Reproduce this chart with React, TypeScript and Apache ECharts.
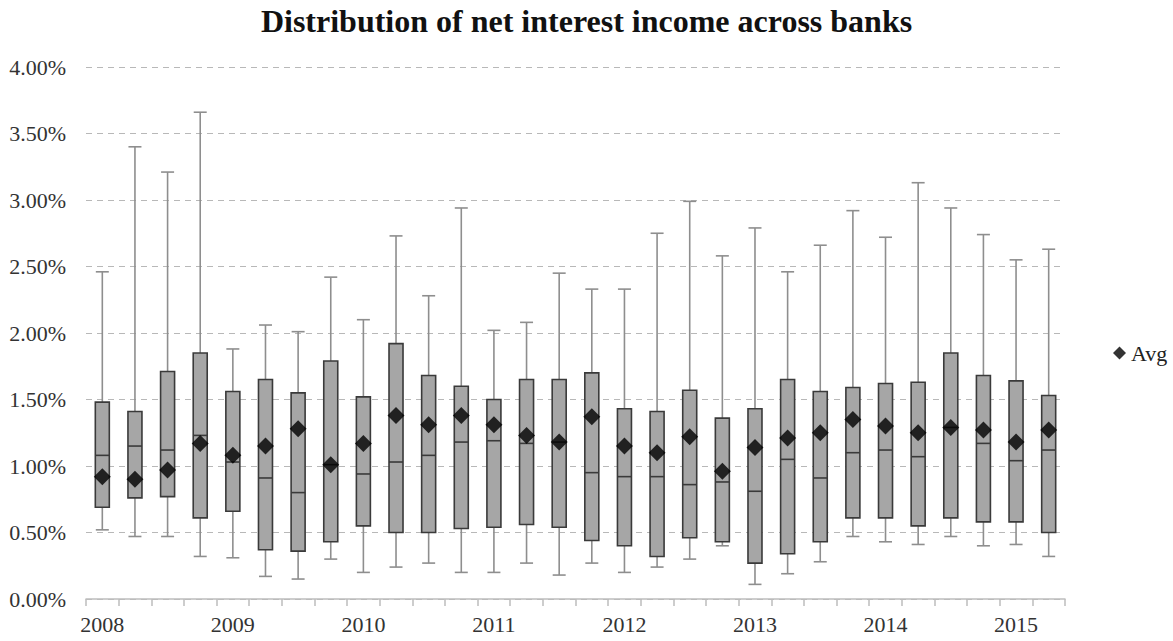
import React, { useEffect, useRef } from "react";
import * as echarts from "echarts";

const categories = [
  "2008Q1", "2008Q2", "2008Q3", "2008Q4",
  "2009Q1", "2009Q2", "2009Q3", "2009Q4",
  "2010Q1", "2010Q2", "2010Q3", "2010Q4",
  "2011Q1", "2011Q2", "2011Q3", "2011Q4",
  "2012Q1", "2012Q2", "2012Q3", "2012Q4",
  "2013Q1", "2013Q2", "2013Q3", "2013Q4",
  "2014Q1", "2014Q2", "2014Q3", "2014Q4",
  "2015Q1", "2015Q2",
];

const minVals = [0.52, 0.47, 0.47, 0.32, 0.31, 0.17, 0.15, 0.30, 0.20, 0.24, 0.27, 0.20, 0.20, 0.27, 0.18, 0.27, 0.20, 0.24, 0.30, 0.40, 0.11, 0.19, 0.28, 0.47, 0.43, 0.41, 0.47, 0.40, 0.41, 0.32];
const q1Vals = [0.69, 0.76, 0.77, 0.61, 0.66, 0.37, 0.36, 0.43, 0.55, 0.50, 0.50, 0.53, 0.54, 0.56, 0.54, 0.44, 0.40, 0.32, 0.46, 0.43, 0.27, 0.34, 0.43, 0.61, 0.61, 0.55, 0.61, 0.58, 0.58, 0.50];
const medianVals = [1.08, 1.15, 1.12, 1.23, 1.03, 0.91, 0.80, 1.01, 0.94, 1.03, 1.08, 1.18, 1.19, 1.17, 1.18, 0.95, 0.92, 0.92, 0.86, 0.88, 0.81, 1.05, 0.91, 1.10, 1.12, 1.07, 1.29, 1.17, 1.04, 1.12];
const q3Vals = [1.48, 1.41, 1.71, 1.85, 1.56, 1.65, 1.55, 1.79, 1.52, 1.92, 1.68, 1.60, 1.50, 1.65, 1.65, 1.70, 1.43, 1.41, 1.57, 1.36, 1.43, 1.65, 1.56, 1.59, 1.62, 1.63, 1.85, 1.68, 1.64, 1.53];
const maxVals = [2.46, 3.40, 3.21, 3.66, 1.88, 2.06, 2.01, 2.42, 2.10, 2.73, 2.28, 2.94, 2.02, 2.08, 2.45, 2.33, 2.33, 2.75, 2.99, 2.58, 2.79, 2.46, 2.66, 2.92, 2.72, 3.13, 2.94, 2.74, 2.55, 2.63];
const avgVals = [0.92, 0.90, 0.97, 1.17, 1.08, 1.15, 1.28, 1.01, 1.17, 1.38, 1.31, 1.38, 1.31, 1.23, 1.18, 1.37, 1.15, 1.10, 1.22, 0.96, 1.14, 1.21, 1.25, 1.35, 1.30, 1.25, 1.29, 1.27, 1.18, 1.27];

const yTicks = { min: 0, max: 4, interval: 0.5 };

const SERIF = "'Liberation Serif', 'Times New Roman', serif";

const BOX_W = 14;
const CAP_W = 13;
const WHISKER_COLOR = "#8e8e8e";
const BOX_FILL = "#a6a6a6";
const BOX_BORDER = "#3a3a3a";

export default function App() {
  const ref = useRef<HTMLDivElement>(null);

  useEffect(() => {
    if (!ref.current) return;
    const chart = echarts.init(ref.current, undefined, { renderer: "svg" });

    const boxData = categories.map((_, i) => [i, minVals[i], q1Vals[i], medianVals[i], q3Vals[i], maxVals[i]]);

    const renderBox = (params: any, api: any) => {
      const idx = api.value(0);
      const pMin = api.coord([idx, api.value(1)]);
      const pQ1 = api.coord([idx, api.value(2)]);
      const pMed = api.coord([idx, api.value(3)]);
      const pQ3 = api.coord([idx, api.value(4)]);
      const pMax = api.coord([idx, api.value(5)]);
      const x = pMed[0];
      const whiskerStyle = { stroke: WHISKER_COLOR, lineWidth: 1.6 };
      return {
        type: "group",
        children: [
          { type: "line", shape: { x1: x, y1: pMax[1], x2: x, y2: pQ3[1] }, style: whiskerStyle },
          { type: "line", shape: { x1: x, y1: pQ1[1], x2: x, y2: pMin[1] }, style: whiskerStyle },
          { type: "line", shape: { x1: x - CAP_W / 2, y1: pMax[1], x2: x + CAP_W / 2, y2: pMax[1] }, style: whiskerStyle },
          { type: "line", shape: { x1: x - CAP_W / 2, y1: pMin[1], x2: x + CAP_W / 2, y2: pMin[1] }, style: whiskerStyle },
          {
            type: "rect",
            shape: { x: x - BOX_W / 2, y: pQ3[1], width: BOX_W, height: pQ1[1] - pQ3[1] },
            style: { fill: BOX_FILL, stroke: BOX_BORDER, lineWidth: 1.6 },
          },
          {
            type: "line",
            shape: { x1: x - BOX_W / 2, y1: pMed[1], x2: x + BOX_W / 2, y2: pMed[1] },
            style: { stroke: BOX_BORDER, lineWidth: 1.6 },
          },
        ],
      };
    };

    chart.setOption({
      animation: false,
      backgroundColor: "#ffffff",
      title: {
        text: "Distribution of net interest income across banks",
        left: "center",
        top: 0,
        textStyle: {
          fontFamily: SERIF,
          fontSize: 32,
          fontWeight: "bold",
          color: "#111",
        },
      },
      legend: {
        data: [{ name: "Avg", icon: "diamond" }],
        left: 1108,
        top: 337,
        itemWidth: 13,
        itemHeight: 13,
        itemGap: 4,
        textStyle: { fontFamily: SERIF, fontSize: 22, color: "#222" },
      },
      grid: { left: 86, right: 108, top: 67, bottom: 42, containLabel: false },
      xAxis: {
        type: "category",
        data: categories,
        boundaryGap: true,
        axisLine: { show: true, lineStyle: { color: "#bdbdbd", width: 1.5 } },
        axisTick: { show: true, interval: 0, alignWithLabel: false, length: 7, lineStyle: { color: "#bdbdbd", width: 1.5 } },
        axisLabel: {
          interval: 3,
          margin: 14,
          fontFamily: SERIF,
          fontSize: 22,
          color: "#333",
          formatter: (v: string) => v.slice(0, 4),
        },
        splitLine: { show: false },
      },
      yAxis: {
        type: "value",
        min: yTicks.min,
        max: yTicks.max,
        interval: yTicks.interval,
        axisLine: { show: false },
        axisTick: { show: false },
        axisLabel: {
          margin: 20,
          fontFamily: SERIF,
          fontSize: 22,
          color: "#333",
          formatter: (v: number) => v.toFixed(2) + "%",
        },
        splitLine: { show: true, lineStyle: { color: "#b8b8b8", type: [6, 5], width: 1.2 } },
      },
      series: [
        {
          name: "Distribution",
          type: "custom",
          data: boxData,
          encode: { x: 0, y: [1, 2, 3, 4, 5] },
          renderItem: renderBox,
          silent: true,
          z: 2,
        },
        {
          name: "Avg",
          type: "scatter",
          data: avgVals,
          symbol: "diamond",
          symbolSize: 17,
          itemStyle: { color: "#000" },
          emphasis: { disabled: true },
          silent: true,
          z: 5,
        },
      ],
    });

    return () => chart.dispose();
  }, []);

  return (
    <div
      ref={ref}
      style={{ position: "fixed", left: 0, top: 0, width: 1173, height: 641 }}
    />
  );
}
